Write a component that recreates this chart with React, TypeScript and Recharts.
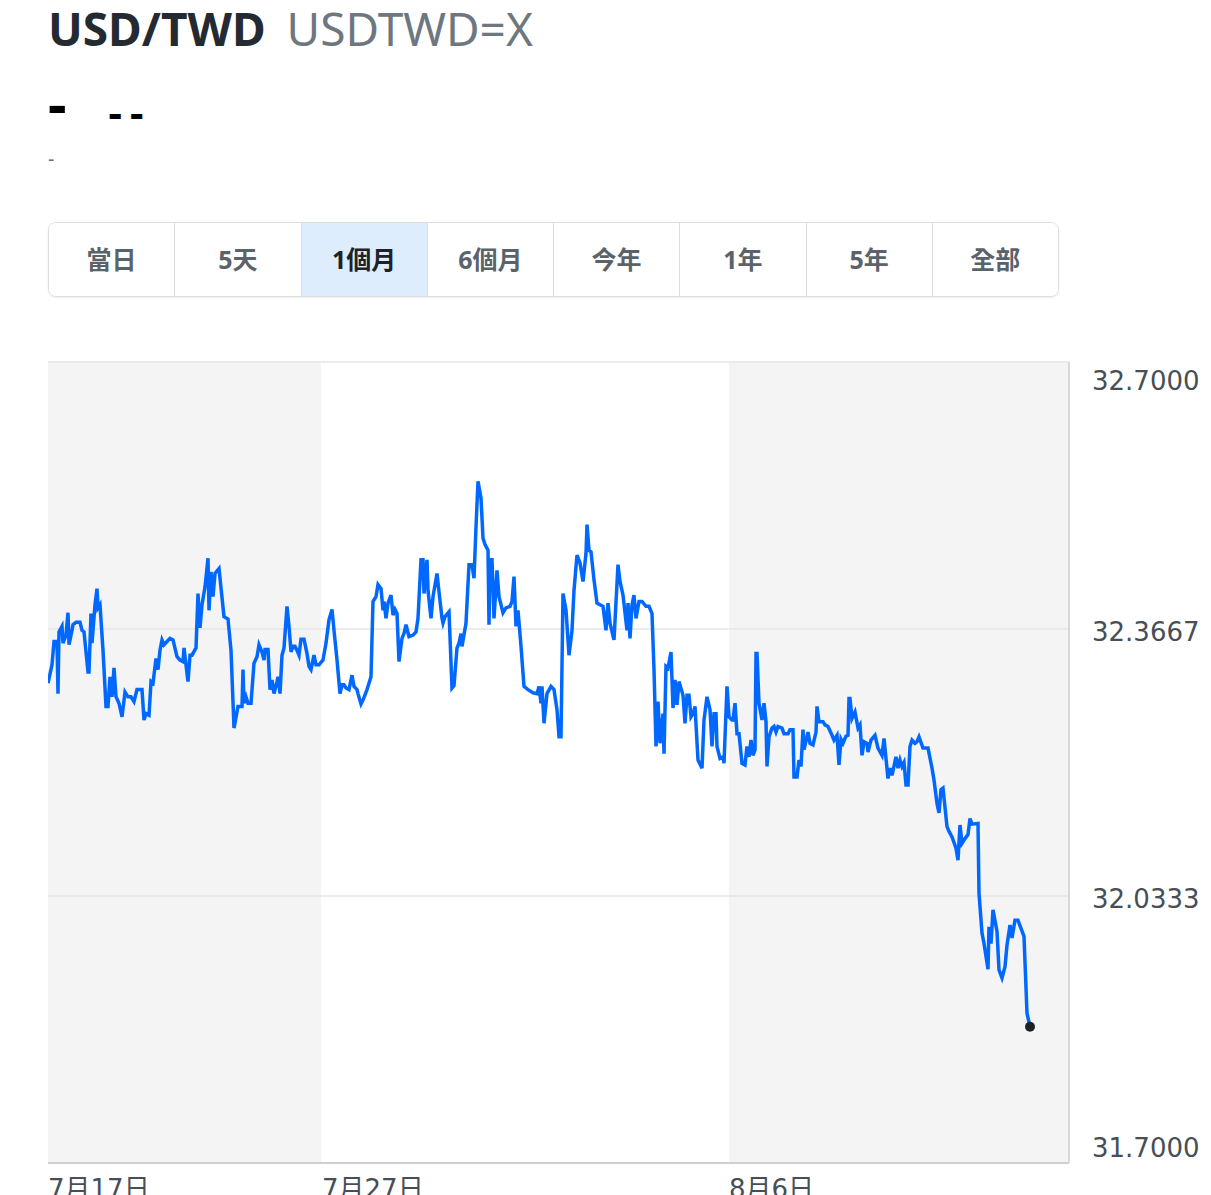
import { LineChart, Line, XAxis, YAxis, ReferenceLine, ReferenceArea, ReferenceDot } from "recharts";

// position of each quote on the (trading-time) x axis, 0 = 7月17日, axis runs to 1021
const slots = [
  0, 4, 6, 9, 10, 11, 14, 15, 18, 20, 21, 24, 25, 28, 32, 34, 36, 40, 41, 43,
  44, 47, 49, 50, 52, 55, 58, 60, 62, 64, 66, 68, 71, 74, 77, 80, 83, 86, 89, 94,
  96, 98, 101, 103, 105, 108, 110, 112, 114, 116, 119, 122, 125, 129, 132, 135, 136, 140, 142, 144,
  148, 150, 152, 154, 157, 160, 161, 163, 165, 167, 171, 176, 180, 183, 186, 190, 194,
  195, 196, 198, 200, 203, 206, 209, 211, 214, 216, 217, 220, 222, 224, 226, 229, 230, 232, 234, 236,
  239, 241, 243, 245, 247, 249, 251, 253, 256, 259, 261, 263, 266, 268, 271, 275, 278, 281, 284, 286,
  289, 292, 294, 296, 298, 301, 304, 306, 309, 310, 313, 315, 319, 323, 325, 328, 330, 333, 335, 336,
  338, 340, 343, 345, 347, 349, 351, 354, 356, 358, 361, 365, 368, 370, 373, 375, 376, 379, 380, 383,
  385, 389,
  391, 394, 395, 397, 401, 404, 406, 409, 411, 413, 414, 418, 421, 424, 426, 428, 430, 433, 435, 437,
  440, 441, 442, 444, 446, 449, 451, 455, 458, 462, 464, 466, 468, 470, 473, 476, 480, 485, 489, 491,
  493, 494, 496, 499, 503, 506, 509, 511, 513, 515, 518, 521, 524, 526, 529, 532, 535, 538, 539, 541,
  543, 546, 549, 552, 555, 558, 560, 562, 566, 570, 572, 575, 579, 580, 582, 584, 586, 588, 591, 594,
  598, 601, 604, 606,
  608, 610, 612, 615, 616, 618, 620, 623, 625, 627, 629, 631, 635, 637, 639, 641, 643, 645, 647, 650,
  654, 656, 659, 662, 664, 666, 668, 669, 672, 675, 676, 679, 681, 684, 685, 687, 689, 691, 694, 697,
  699, 701, 703, 705, 707, 708, 709, 711, 714, 716, 718, 719, 721, 724, 726, 728, 730, 734, 736, 740,
  742, 745, 746, 749, 751, 753, 755, 756, 760, 762, 765, 768, 769, 771, 775, 777, 780,
  784, 786, 789, 791, 793, 795, 798, 800, 801, 802, 804, 807, 810, 812, 814, 816, 819, 820, 823, 827,
  830, 834, 836, 840, 842, 844, 848, 850, 852, 854, 856, 858, 860, 862, 864, 867, 869, 871, 875, 880,
  884, 886, 889, 891, 893, 895, 899, 901, 904, 908, 910, 912, 914, 917, 920, 922, 924, 930, 931, 934,
  936, 940, 941, 943, 945, 949, 951, 954, 957, 959, 962, 964, 967, 970, 976, 979, 982,
];

// USD/TWD rate at each slot
const rates = [
  32.299, 32.322, 32.351, 32.351, 32.286, 32.363, 32.370, 32.349, 32.359, 32.387,
  32.347, 32.365, 32.372, 32.375, 32.375, 32.365, 32.363, 32.313, 32.313, 32.386,
  32.349, 32.397, 32.417, 32.393, 32.397, 32.340, 32.270, 32.270, 32.307, 32.282,
  32.318, 32.282, 32.274, 32.257, 32.288, 32.282, 32.282, 32.276, 32.291, 32.291,
  32.253, 32.261, 32.259, 32.301, 32.299, 32.330, 32.316, 32.340, 32.353, 32.347,
  32.351, 32.355, 32.353, 32.332, 32.328, 32.326, 32.343, 32.301, 32.334, 32.334,
  32.343, 32.411, 32.368, 32.397, 32.419, 32.455, 32.390, 32.438, 32.407, 32.436,
  32.442, 32.382, 32.379, 32.340, 32.243, 32.270, 32.270,
  32.316, 32.274, 32.282, 32.274, 32.274, 32.324, 32.332, 32.347, 32.338, 32.328,
  32.341, 32.341, 32.291, 32.303, 32.286, 32.301, 32.307, 32.286, 32.334, 32.343,
  32.395, 32.370, 32.338, 32.345, 32.345, 32.340, 32.334, 32.354, 32.354, 32.336,
  32.320, 32.316, 32.334, 32.322, 32.322, 32.328, 32.349, 32.378, 32.391, 32.365,
  32.328, 32.286, 32.297, 32.297, 32.293, 32.291, 32.309, 32.295, 32.291, 32.286,
  32.273, 32.278, 32.291, 32.307, 32.401, 32.407, 32.422, 32.417, 32.390, 32.401,
  32.380, 32.399, 32.409, 32.384, 32.391, 32.386, 32.326, 32.355, 32.361, 32.372,
  32.357, 32.359, 32.363, 32.380, 32.453, 32.453, 32.411, 32.453, 32.415, 32.380,
  32.407, 32.436,
  32.413, 32.380, 32.374, 32.382, 32.388, 32.293, 32.296, 32.343, 32.349, 32.361,
  32.345, 32.374, 32.447, 32.447, 32.430, 32.494, 32.551, 32.530, 32.480, 32.472,
  32.465, 32.372, 32.453, 32.453, 32.380, 32.440, 32.407, 32.387, 32.393, 32.395,
  32.401, 32.432, 32.370, 32.390, 32.345, 32.295, 32.291, 32.287, 32.286, 32.295,
  32.274, 32.295, 32.249, 32.286, 32.295, 32.291, 32.266, 32.232, 32.232, 32.411,
  32.390, 32.334, 32.365, 32.415, 32.459, 32.449, 32.426, 32.461, 32.497, 32.465,
  32.463, 32.428, 32.399, 32.397, 32.395, 32.365, 32.399, 32.374, 32.353, 32.447,
  32.426, 32.409, 32.365, 32.399, 32.355, 32.397, 32.409, 32.380, 32.401, 32.401,
  32.395, 32.395, 32.386, 32.316,
  32.220, 32.276, 32.224, 32.261, 32.211, 32.320, 32.318, 32.338, 32.268, 32.303,
  32.272, 32.301, 32.284, 32.249, 32.284, 32.284, 32.257, 32.261, 32.270, 32.203,
  32.193, 32.253, 32.282, 32.266, 32.220, 32.261, 32.261, 32.220, 32.205, 32.207,
  32.199, 32.295, 32.257, 32.253, 32.253, 32.274, 32.236, 32.236, 32.199, 32.197,
  32.220, 32.207, 32.228, 32.209, 32.216, 32.336, 32.336, 32.274, 32.253, 32.274,
  32.251, 32.195, 32.232, 32.243, 32.245, 32.238, 32.245, 32.243, 32.236, 32.236,
  32.241, 32.241, 32.182, 32.182, 32.203, 32.195, 32.241, 32.216, 32.238, 32.224,
  32.222, 32.238, 32.270, 32.251, 32.251, 32.247, 32.245,
  32.234, 32.228, 32.234, 32.197, 32.229, 32.224, 32.233, 32.234, 32.280, 32.280,
  32.255, 32.263, 32.243, 32.247, 32.209, 32.226, 32.224, 32.213, 32.228, 32.234,
  32.218, 32.209, 32.230, 32.180, 32.193, 32.184, 32.207, 32.193, 32.203, 32.195,
  32.200, 32.172, 32.172, 32.220, 32.228, 32.224, 32.226, 32.232, 32.218, 32.218,
  32.193, 32.178, 32.149, 32.137, 32.166, 32.168, 32.120, 32.114, 32.107, 32.093,
  32.078, 32.122, 32.099, 32.105, 32.110, 32.130, 32.123, 32.124, 32.037, 31.987,
  31.974, 31.942, 31.995, 31.974, 32.016, 31.989, 31.941, 31.931, 31.945, 31.972,
  31.997, 31.981, 32.003, 32.003, 31.983, 31.887, 31.870,
];

const xTicks = [0, 274, 681];
const xTickLabels = ["7月17日", "7月27日", "8月6日"];
const xDomain = [0, 1021];
// shaded day bands (slot ranges)
const grayBands = [
  [0, 273],
  [681, 1021],
];
const yTicks = [31.7, 32.0333, 32.3667, 32.7];
const ranges = ["當日", "5天", "1個月", "6個月", "今年", "1年", "5年", "全部"];
const activeRange = "1個月";

const data = slots.map((s, i) => ({ slot: s, rate: rates[i] }));
const last = data[data.length - 1];

const FONT = "'DejaVu Sans', 'Noto Sans CJK TC', sans-serif";
const BLUE = "#0068ff";

const YTick = (props: any) => {
  const { y, payload } = props;
  const v = payload.value;
  const dy = v === yTicks[yTicks.length - 1] ? 28 : v === yTicks[0] ? -6 : 12;
  return (
    <text x={1092} y={y} dy={dy} fill="#464e56" fontSize={26} fontFamily={FONT} textAnchor="start">
      {v.toFixed(4)}
    </text>
  );
};

const XTick = (props: any) => {
  const { x, y, payload } = props;
  return (
    <text x={x} y={y} dy={27} fill="#464e56" fontSize={26} fontFamily={FONT} textAnchor="start">
      {xTickLabels[xTicks.indexOf(payload.value)]}
    </text>
  );
};

export default function App() {
  return (
    <div
      style={{
        position: "absolute",
        left: 0,
        top: 0,
        width: 1211,
        height: 1195,
        overflow: "hidden",
        background: "#fff",
        fontFamily: "'Noto Sans', 'Noto Sans CJK TC', sans-serif",
      }}
    >
      <div style={{ position: "absolute", left: 48, top: 0, lineHeight: "56px", whiteSpace: "nowrap" }}>
        <span style={{ fontSize: 46, fontWeight: 700, color: "#232a31" }}>USD/TWD</span>
        <span style={{ fontSize: 46, fontWeight: 400, color: "#6e7780", marginLeft: 21 }}>USDTWD=X</span>
      </div>
      <div style={{ position: "absolute", left: 48, top: 68, lineHeight: "70px", whiteSpace: "nowrap", color: "#000" }}>
        <span style={{ fontSize: 58, fontWeight: 700 }}>-</span>
        <span style={{ fontSize: 42, fontWeight: 700, marginLeft: 42, letterSpacing: 8, position: "relative", top: 3 }}>--</span>
      </div>
      <div style={{ position: "absolute", left: 48, top: 146, fontSize: 20, color: "#6e7780", lineHeight: "26px" }}>-</div>

      <div
        style={{
          position: "absolute",
          left: 48,
          top: 222,
          width: 1011,
          height: 75,
          boxSizing: "border-box",
          border: "1.5px solid #dcdfe2",
          borderRadius: 8,
          display: "flex",
          overflow: "hidden",
          boxShadow: "0 1px 2px rgba(0,0,0,0.08)",
        }}
      >
        {ranges.map((r, i) => (
          <div
            key={r}
            style={{
              flex: 1,
              borderLeft: i === 0 ? "none" : "1.5px solid #dcdfe2",
              background: r === activeRange ? "#deedfd" : "#fff",
              color: r === activeRange ? "#1d2228" : "#5b636a",
              fontWeight: 700,
              fontSize: 25,
              textAlign: "center",
              lineHeight: "72px",
            }}
          >
            {r}
          </div>
        ))}
      </div>

      <div style={{ position: "absolute", left: 0, top: 340 }}>
        <LineChart width={1211} height={855} data={data} margin={{ top: 22, right: 0, bottom: 0, left: 48 }}>
          {grayBands.map(([a, b]) => (
            <ReferenceArea key={a} x1={a} x2={b} fill="#f4f4f4" fillOpacity={1} stroke="none" ifOverflow="hidden" />
          ))}
          {yTicks.slice(1).map((v) => (
            <ReferenceLine key={v} y={v} stroke="#e6e6e6" strokeWidth={1.5} />
          ))}
          <XAxis
            dataKey="slot"
            type="number"
            domain={xDomain}
            ticks={xTicks}
            interval={0}
            height={32}
            axisLine={{ stroke: "#cfcfcf", strokeWidth: 2 }}
            tickLine={false}
            tick={<XTick />}
            allowDataOverflow
          />
          <YAxis
            orientation="right"
            type="number"
            domain={[31.7, 32.7]}
            ticks={yTicks}
            interval={0}
            width={142}
            axisLine={{ stroke: "#d8d8d8", strokeWidth: 2 }}
            tickLine={false}
            tick={<YTick />}
            allowDataOverflow
          />
          <Line
            type="linear"
            dataKey="rate"
            stroke={BLUE}
            strokeWidth={3.5}
            dot={false}
            activeDot={false}
            isAnimationActive={false}
          />
          <ReferenceDot x={last.slot} y={last.rate} r={5} fill="#1d2228" stroke="none" />
        </LineChart>
      </div>
    </div>
  );
}
